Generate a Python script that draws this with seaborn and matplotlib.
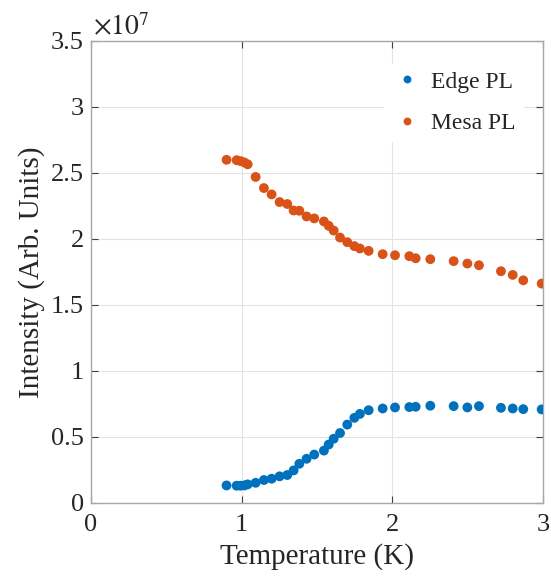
import matplotlib
matplotlib.use("Agg")
import matplotlib.pyplot as plt
import seaborn as sns
import pandas as pd

# Temperature (K)
temperature = [0.900, 0.967, 0.993, 1.018, 1.040, 1.093, 1.148, 1.199, 1.252, 1.303,
               1.345, 1.383, 1.431, 1.482, 1.546, 1.578, 1.611, 1.653, 1.701, 1.748,
               1.785, 1.843, 1.936, 2.018, 2.113, 2.155, 2.252, 2.407, 2.498, 2.575,
               2.721, 2.799, 2.869, 2.991]
# Intensities in units of 1e7
edge_pl = [0.133, 0.131, 0.131, 0.133, 0.141, 0.153, 0.174, 0.184, 0.202, 0.212,
           0.247, 0.297, 0.335, 0.367, 0.397, 0.443, 0.487, 0.530, 0.594, 0.645,
           0.675, 0.703, 0.716, 0.724, 0.727, 0.729, 0.737, 0.734, 0.724, 0.734,
           0.721, 0.716, 0.711, 0.709]
mesa_pl = [2.600, 2.597, 2.590, 2.580, 2.566, 2.470, 2.386, 2.338, 2.280, 2.265,
           2.216, 2.214, 2.171, 2.156, 2.133, 2.100, 2.064, 2.011, 1.976, 1.946,
           1.928, 1.910, 1.885, 1.877, 1.870, 1.854, 1.847, 1.832, 1.814, 1.801,
           1.756, 1.728, 1.687, 1.662]
series_names = ["Edge PL", "Mesa PL"]
series_colors = ["#0072BD", "#D95319"]
x_ticks = [0, 1, 2, 3]
y_ticks = [0, 0.5, 1, 1.5, 2, 2.5, 3, 3.5]
y_ticklabels = ["0", "0.5", "1", "1.5", "2", "2.5", "3", "3.5"]

df = pd.DataFrame({
    "Temperature": temperature * 2,
    "Intensity": edge_pl + mesa_pl,
    "Series": [series_names[0]] * len(edge_pl) + [series_names[1]] * len(mesa_pl),
})

sns.set_theme(style="white")
plt.rcParams["font.family"] = ["Liberation Serif", "DejaVu Serif"]
plt.rcParams["mathtext.fontset"] = "stix"

fig = plt.figure(figsize=(5.51, 5.84), dpi=100)
ax = fig.add_axes([0.165, 0.1387, 0.8205, 0.7911])

sns.scatterplot(data=df, x="Temperature", y="Intensity", hue="Series",
                palette=series_colors, s=50, linewidth=0, ax=ax, zorder=3)

ax.set_xlim(0, 3)
ax.set_ylim(0, 3.5)
ax.set_xticks(x_ticks)
ax.set_xticklabels([str(t) for t in x_ticks])
ax.set_yticks(y_ticks)
ax.set_yticklabels(y_ticklabels)
ax.grid(True, color="#e3e3e3", linewidth=0.8, zorder=0)
ax.set_axisbelow(True)

spine_col = "#a8a8a8"
for sp in ax.spines.values():
    sp.set_visible(True)
    sp.set_color(spine_col)
    sp.set_linewidth(1.0)
ax.tick_params(axis="both", direction="in", length=5, width=0.8, color="#404040",
               labelsize=19, labelcolor="#262626", top=True, right=True,
               bottom=True, left=True, pad=5)
ax.tick_params(axis="x", pad=8)

ax.set_xlabel("Temperature (K)", fontsize=21, color="#262626", labelpad=5)
ax.set_ylabel("Intensity (Arb. Units)", fontsize=21, color="#262626", labelpad=4)

ax.text(0.005, 1.0, r"$\times10^{7}$", transform=ax.transAxes, fontsize=20,
        color="#262626", ha="left", va="bottom")

handles, labels = ax.get_legend_handles_labels()
leg = ax.legend(handles, labels, loc="upper right", bbox_to_anchor=(0.955, 0.95),
                fontsize=17, frameon=True, facecolor="white", edgecolor="white",
                framealpha=1, markerscale=0.8, handlelength=1.4, handletextpad=0.3,
                borderaxespad=0.0, borderpad=0.3, labelspacing=0.85)
for t in leg.get_texts():
    t.set_color("#262626")

fig.savefig("out.png", dpi=100)
